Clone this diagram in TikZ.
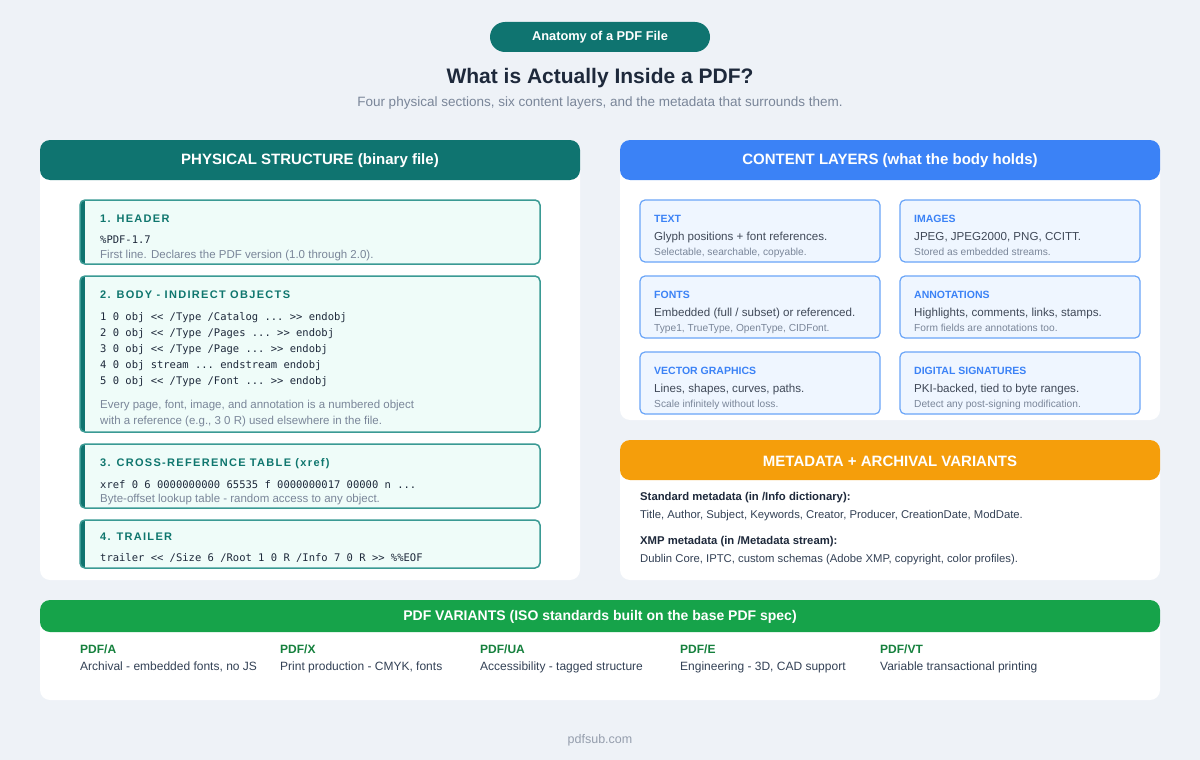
\documentclass[tikz,border=0pt]{standalone}
\usepackage{fontspec}
\setmainfont{Liberation Sans}
\setmonofont{DejaVu Sans Mono}
\definecolor{bg}{HTML}{EEF2F7}
\definecolor{teal}{HTML}{0F7470}
\definecolor{tealb}{HTML}{3A9A94}
\definecolor{tealf}{HTML}{EFFCF9}
\definecolor{tealt}{HTML}{0F766E}
\definecolor{blue}{HTML}{3B82F6}
\definecolor{blueb}{HTML}{6AA5F8}
\definecolor{bluef}{HTML}{EFF6FF}
\definecolor{orange}{HTML}{F59E0B}
\definecolor{green}{HTML}{16A34A}
\definecolor{gtxt}{HTML}{15803D}
\definecolor{dark}{HTML}{1E293B}
\definecolor{body}{HTML}{334155}
\definecolor{mute}{HTML}{7A8699}
\tikzset{
 panel/.style={fill=white,rounded corners=10pt},
 hfont/.style={text=white,font=\bfseries\fontsize{15}{18}\selectfont},
 tx/.style={anchor=base west,inner sep=0pt},
 ltitle/.style={tx,text=tealt,font=\bfseries\fontsize{11}{13}\selectfont\addfontfeatures{LetterSpace=12}},
 code/.style={tx,text=dark,font=\ttfamily\fontsize{10.5}{13}\selectfont},
 note/.style={tx,text=mute,font=\fontsize{11.5}{13}\selectfont},
 btitle/.style={tx,text=blue,font=\bfseries\fontsize{10.5}{13}\selectfont},
 bline/.style={tx,text=dark!85,font=\fontsize{11.6}{13}\selectfont},
 bnote/.style={tx,text=mute,font=\fontsize{10.2}{12}\selectfont},
 bcard/.style={draw=blueb,fill=bluef,line width=1.2pt,rounded corners=5pt},
}
\newcommand{\lcard}[2]{%
 \fill[tealf,rounded corners=5pt] (80,#1) rectangle (540,#2);
 \begin{scope}
 \clip[rounded corners=5pt] (80,#1) rectangle (540,#2);
 \fill[teal] (80,#1) rectangle (85,#2);
 \end{scope}
 \draw[tealb,line width=1.5pt,rounded corners=5pt] (80,#1) rectangle (540,#2);}
\begin{document}
\begin{tikzpicture}[x=1pt,y=-1pt]
\fill[bg] (0,0) rectangle (1200,760);
\useasboundingbox (0,0) rectangle (1200,760);
\node[fill=teal,rounded corners=15pt,minimum width=220pt,minimum height=30pt,text=white,font=\bfseries\fontsize{12.8}{15}\selectfont] (pill) at (600,37) {Anatomy of a PDF File};
\node[text=dark,font=\bfseries\fontsize{21}{25}\selectfont] (title) at (600,78) {What is Actually Inside a PDF?};
\node[text=mute,font=\fontsize{13.5}{16}\selectfont] (sub) at (600,103) {Four physical sections, six content layers, and the metadata that surrounds them.};
% left panel
\fill[panel] (40,140) rectangle (580,580);
\fill[teal,rounded corners=10pt] (40,140) rectangle (580,180);
\node[hfont] (lh) at (310,161) {PHYSICAL STRUCTURE (binary file)};
\lcard{200}{264}\lcard{276}{432}\lcard{444}{508}\lcard{520}{568}
\node[ltitle] (h1) at (100,222) {1. HEADER};
\node[code] (c1) at (100,243) {\%PDF-1.7};
\node[note] (n1) at (100,258) {First line. Declares the PDF version (1.0 through 2.0).};
\node[ltitle] (h2) at (100,298) {2. BODY - INDIRECT OBJECTS};
\node[code] (c21) at (100,320) {1 0 obj << /Type /Catalog ... >> endobj};
\node[code] (c22) at (100,336) {2 0 obj << /Type /Pages ... >> endobj};
\node[code] (c23) at (100,352) {3 0 obj << /Type /Page ... >> endobj};
\node[code] (c24) at (100,368) {4 0 obj stream ... endstream endobj};
\node[code] (c25) at (100,384) {5 0 obj << /Type /Font ... >> endobj};
\node[note] (n21) at (100,408) {Every page, font, image, and annotation is a numbered object};
\node[note] (n22) at (100,424) {with a reference (e.g., 3 0 R) used elsewhere in the file.};
\node[ltitle] (h3) at (100,466) {3. CROSS-REFERENCE TABLE (xref)};
\node[code] (c3) at (100,488) {xref 0 6 0000000000 65535 f 0000000017 00000 n ...};
\node[note] (n3) at (100,502) {Byte-offset lookup table - random access to any object.};
\node[ltitle] (h4) at (100,540) {4. TRAILER};
\node[code] (c4) at (100,561) {trailer << /Size 6 /Root 1 0 R /Info 7 0 R >> \%\%EOF};
% content layers
\fill[panel] (620,140) rectangle (1160,420);
\fill[blue,rounded corners=10pt] (620,140) rectangle (1160,180);
\node[hfont] (rh) at (890,161) {CONTENT LAYERS (what the body holds)};
\foreach \x/\y/\t/\a/\b in {
 640/200/TEXT/{Glyph positions + font references.}/{Selectable, searchable, copyable.},
 900/200/IMAGES/{JPEG, JPEG2000, PNG, CCITT.}/{Stored as embedded streams.},
 640/276/FONTS/{Embedded (full / subset) or referenced.}/{Type1, TrueType, OpenType, CIDFont.},
 900/276/ANNOTATIONS/{Highlights, comments, links, stamps.}/{Form fields are annotations too.},
 640/352/VECTOR GRAPHICS/{Lines, shapes, curves, paths.}/{Scale infinitely without loss.},
 900/352/DIGITAL SIGNATURES/{PKI-backed, tied to byte ranges.}/{Detect any post-signing modification.}}{
 \draw[bcard] (\x,\y) rectangle ++(240,62);
 \node[btitle] (t\x\y) at (\x+14,\y+22) {\t};
 \node[bline] (l\x\y) at (\x+14,\y+40) {\a};
 \node[bnote] (m\x\y) at (\x+14,\y+55) {\b};
}
% metadata
\fill[panel] (620,440) rectangle (1160,580);
\fill[orange,rounded corners=10pt] (620,440) rectangle (1160,480);
\node[hfont] (mh) at (890,461) {METADATA + ARCHIVAL VARIANTS};
\node[tx,text=dark,font=\bfseries\fontsize{11.3}{13}\selectfont] (m1) at (640,500) {Standard metadata (in /Info dictionary):};
\node[tx,text=body,font=\fontsize{11.3}{13}\selectfont] (m2) at (640,518) {Title, Author, Subject, Keywords, Creator, Producer, CreationDate, ModDate.};
\node[tx,text=dark,font=\bfseries\fontsize{11.3}{13}\selectfont] (m3) at (640,544) {XMP metadata (in /Metadata stream):};
\node[tx,text=body,font=\fontsize{11.3}{13}\selectfont] (m4) at (640,562) {Dublin Core, IPTC, custom schemas (Adobe XMP, copyright, color profiles).};
% variants
\fill[panel] (40,600) rectangle (1160,700);
\fill[green,rounded corners=10pt] (40,600) rectangle (1160,632);
\node[text=white,font=\bfseries\fontsize{14}{16}\selectfont] (vh) at (600,617) {PDF VARIANTS (ISO standards built on the base PDF spec)};
\foreach \x/\t/\d in {80/PDF\slash A/{Archival - embedded fonts, no JS},280/PDF\slash X/{Print production - CMYK, fonts},480/PDF\slash UA/{Accessibility - tagged structure},680/PDF\slash E/{Engineering - 3D, CAD support},880/PDF\slash VT/{Variable transactional printing}}{
 \node[tx,text=gtxt,font=\bfseries\fontsize{12}{14}\selectfont] (v\x) at (\x,653) {\t};
 \node[tx,text=body,font=\fontsize{12}{14}\selectfont] (d\x) at (\x,670) {\d};
}
\node[text=mute!80,font=\fontsize{12.5}{14}\selectfont] (foot) at (600,740) {pdfsub.com};
\end{tikzpicture}
\end{document}
